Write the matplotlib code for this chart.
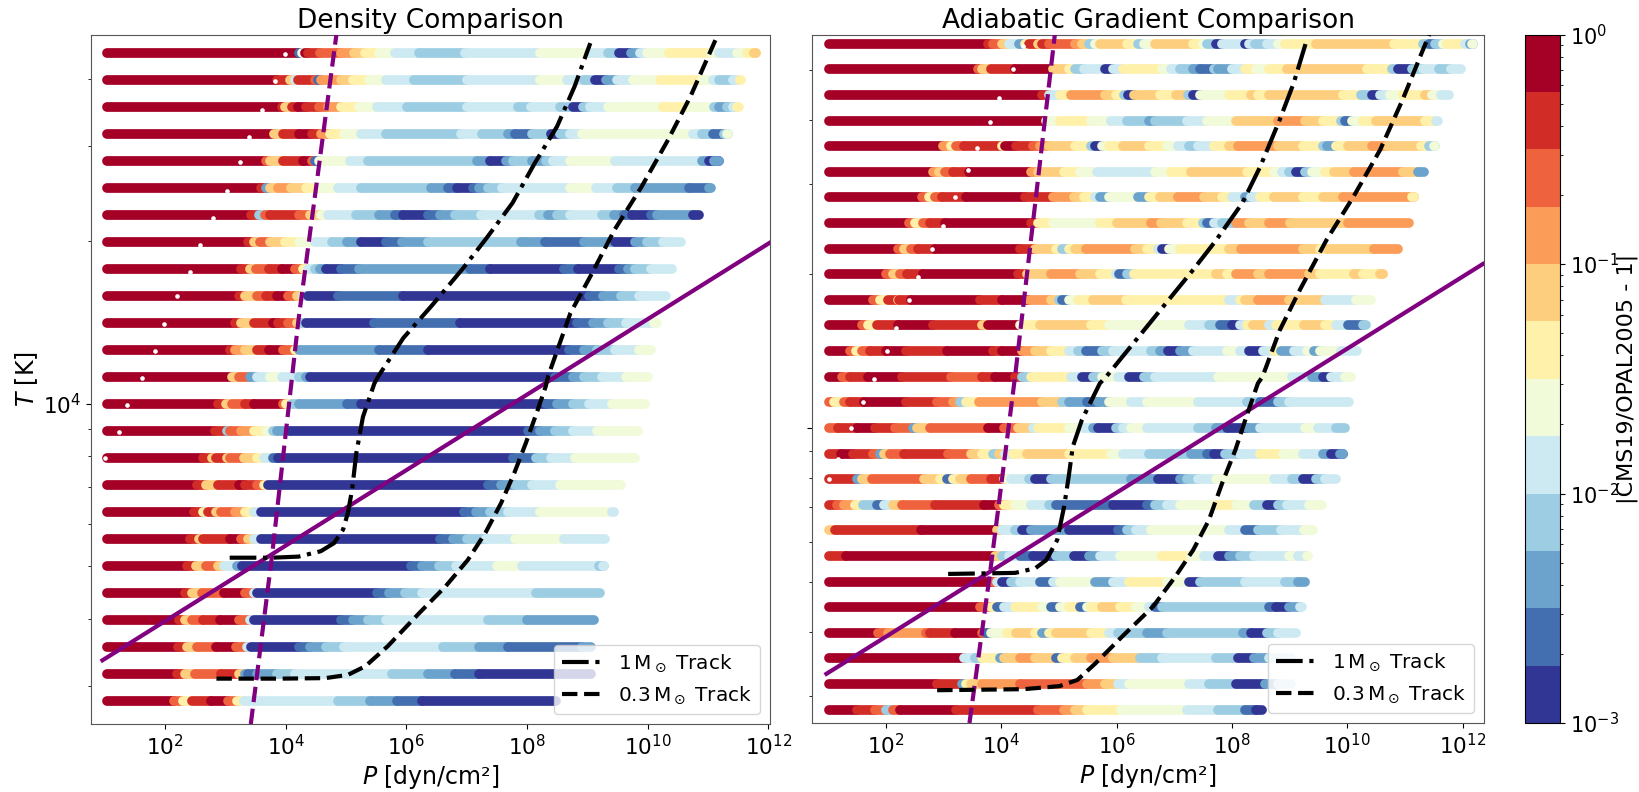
import numpy as np
import matplotlib
matplotlib.use("Agg")
import matplotlib.pyplot as plt
from matplotlib.collections import LineCollection
from matplotlib.colors import LogNorm
from matplotlib.cm import ScalarMappable
from matplotlib.ticker import LogLocator, NullFormatter, NullLocator

# Each row: (log10 P where a run of equal colour begins, colour-bin index 0..11); last entry = row end
d465=[(0.95,11),(4.14,1),(4.19,5),(4.24,11),(4.29,10),(4.49,9),(4.84,8),(5.05,7),(5.23,6),(5.47,5),(5.73,4),(6.13,3),(6.89,4),(8.13,5),(8.94,4),(9.27,3),(9.45,0),(9.64,2),(9.79,4),(9.91,5),(10.27,6),(10.97,5),(11.11,4),(11.41,5),(11.56,6),(11.71,7),(11.84,None)]
d460=[(0.95,11),(3.77,10),(3.99,7),(4.07,4),(4.13,10),(4.40,9),(4.45,1),(4.51,8),(4.84,7),(5.03,6),(5.30,5),(5.58,4),(6.04,3),(6.93,4),(8.14,5),(8.58,4),(8.86,3),(9.05,0),(9.23,2),(9.42,4),(9.68,5),(10.12,6),(10.82,5),(11.00,4),(11.11,3),(11.34,4),(11.45,6),(11.63,None)]
d455=[(0.95,11),(3.85,10),(3.90,7),(4.03,10),(4.13,11),(4.25,10),(4.47,9),(4.62,8),(4.84,6),(5.14,5),(5.43,4),(5.93,3),(6.93,4),(7.77,3),(7.98,4),(8.46,3),(8.68,0),(8.85,3),(8.97,4),(9.27,5),(10.17,6),(10.60,5),(11.02,3),(11.11,2),(11.23,3),(11.34,4),(11.41,6),(11.59,None)]
d450=[(0.95,11),(3.73,7),(3.88,10),(4.14,11),(4.36,10),(4.51,8),(4.66,6),(4.88,5),(5.17,4),(5.58,3),(6.83,4),(7.17,3),(7.61,2),(7.72,1),(8.01,3),(8.31,0),(8.46,3),(8.64,4),(8.83,5),(10.67,4),(10.82,3),(11.00,1),(11.19,3),(11.26,5),(11.39,None)]
d445=[(0.95,11),(3.59,9),(3.66,7),(3.88,10),(4.21,11),(4.36,9),(4.40,1),(4.47,5),(4.99,4),(5.28,3),(7.09,2),(7.31,0),(7.57,2),(7.68,3),(8.01,2),(8.24,3),(8.35,4),(8.64,5),(9.38,4),(10.82,2),(10.93,0),(11.11,2),(11.19,None)]
d440=[(0.95,11),(3.51,10),(3.59,2),(3.66,7),(3.79,8),(4.01,7),(4.25,6),(4.51,5),(4.78,4),(5.17,3),(6.32,2),(6.61,1),(6.76,0),(7.03,1),(7.13,2),(7.28,3),(7.50,4),(8.63,5),(9.07,4),(9.42,3),(9.71,2),(10.60,1),(10.93,2),(11.14,None)]
d435=[(0.95,11),(3.34,10),(3.48,3),(3.57,9),(3.66,10),(4.14,9),(4.32,7),(4.51,5),(4.62,4),(5.08,3),(5.47,2),(5.73,1),(5.87,0),(6.28,1),(6.48,2),(6.72,3),(7.15,4),(8.11,3),(8.26,2),(8.42,3),(8.63,4),(9.16,3),(9.37,2),(9.53,1),(9.66,0),(9.97,1),(10.08,2),(10.67,0),(10.93,None)]
d430=[(0.95,11),(3.29,10),(3.39,7),(3.49,9),(3.66,7),(3.90,6),(4.14,5),(4.40,4),(4.68,3),(4.93,2),(5.17,0),(5.58,1),(5.84,2),(6.28,3),(7.82,2),(8.22,1),(8.86,2),(9.38,0),(9.71,2),(9.91,3),(10.18,4),(10.63,None)]
d425=[(0.95,11),(3.18,10),(3.33,7),(3.42,9),(3.64,10),(3.85,11),(4.07,9),(4.21,6),(4.29,4),(4.40,3),(4.49,2),(4.58,0),(4.83,1),(5.14,2),(6.98,1),(7.31,0),(8.53,1),(8.77,0),(9.45,1),(9.59,2),(9.71,3),(9.97,4),(10.49,None)]
d420=[(0.95,11),(3.14,10),(3.24,7),(3.44,9),(3.59,10),(3.77,11),(3.96,9),(4.10,7),(4.21,4),(4.29,0),(4.79,1),(5.87,0),(8.94,1),(9.18,2),(9.48,3),(9.77,4),(10.38,None)]
d415=[(0.95,11),(3.07,10),(3.18,7),(3.39,10),(3.70,11),(3.79,10),(3.96,9),(4.10,7),(4.18,3),(4.25,0),(5.39,1),(6.81,0),(8.75,1),(9.01,2),(9.27,3),(9.56,4),(10.03,5),(10.23,None)]
d410=[(0.95,11),(3.00,10),(3.07,8),(3.25,7),(3.44,10),(3.64,11),(3.88,9),(4.07,6),(4.14,2),(5.47,1),(6.28,0),(8.61,1),(8.86,2),(9.08,3),(9.38,4),(9.77,5),(10.13,None)]
d405=[(0.95,11),(3.03,7),(3.14,9),(3.33,2),(3.44,4),(3.66,5),(3.85,4),(4.14,3),(4.25,2),(4.32,0),(8.38,1),(8.68,2),(8.86,3),(9.16,4),(9.56,5),(10.08,None)]
d400=[(0.95,11),(2.79,10),(2.92,7),(3.03,9),(3.24,10),(3.39,11),(3.88,9),(3.93,6),(4.03,3),(4.14,2),(4.93,1),(5.17,0),(8.24,1),(8.42,2),(8.68,3),(8.94,4),(9.33,5),(10.04,None)]
d395=[(0.95,11),(2.74,10),(2.94,3),(3.00,9),(3.18,8),(3.40,6),(3.59,5),(3.70,3),(3.77,2),(3.99,0),(7.94,1),(8.13,2),(8.38,3),(8.68,4),(9.08,5),(9.93,None)]
d390=[(0.95,11),(2.55,10),(2.70,7),(2.77,10),(2.94,7),(3.00,9),(3.22,7),(3.44,6),(3.55,4),(3.70,1),(3.79,0),(7.68,1),(8.07,3),(8.32,4),(8.72,5),(9.88,None)]
d385=[(0.95,11),(2.44,10),(2.59,7),(2.80,10),(3.14,11),(3.25,10),(3.44,9),(3.55,6),(3.62,0),(7.28,1),(7.48,2),(7.72,3),(8.01,4),(8.46,5),(9.64,None)]
d380=[(0.95,11),(2.39,10),(2.55,6),(2.63,10),(2.77,7),(2.85,9),(3.07,8),(3.25,6),(3.40,4),(3.51,0),(6.87,1),(7.08,2),(7.31,3),(7.61,4),(8.13,5),(9.37,4),(9.49,None)]
d375=[(0.95,11),(2.33,10),(2.48,7),(2.55,10),(3.00,11),(3.18,9),(3.29,7),(3.40,4),(3.51,0),(6.48,1),(6.69,2),(6.93,3),(7.24,4),(7.72,5),(8.53,4),(9.38,None)]
d370=[(0.95,11),(2.28,10),(2.43,7),(2.59,9),(2.80,7),(2.89,4),(3.11,2),(3.20,0),(5.99,1),(6.18,2),(6.46,3),(6.74,4),(7.42,5),(7.83,4),(9.12,3),(9.20,4),(9.34,None)]
d365=[(0.95,11),(2.24,10),(2.37,7),(2.53,9),(2.89,11),(3.25,9),(3.39,4),(3.44,0),(5.43,1),(5.63,2),(5.89,3),(6.18,4),(8.07,3),(9.29,None)]
d360=[(0.95,11),(2.15,10),(2.24,7),(2.37,9),(2.55,10),(2.83,11),(3.14,9),(3.33,4),(3.39,0),(4.83,1),(5.03,2),(5.28,3),(5.58,4),(7.28,3),(7.92,2),(9.20,None)]
d355=[(0.95,11),(2.13,10),(2.28,7),(2.44,9),(2.77,11),(3.09,9),(3.27,4),(3.34,0),(4.14,1),(4.32,2),(4.58,3),(4.88,4),(6.52,3),(7.13,2),(7.61,1),(8.83,2),(9.14,None)]
d350=[(0.95,11),(2.11,10),(2.24,7),(2.41,9),(2.85,10),(3.14,7),(3.24,2),(3.29,1),(3.44,2),(3.77,3),(4.08,4),(5.68,3),(6.28,2),(6.72,1),(7.13,0),(9.14,None)]
d345=[(0.95,11),(2.07,9),(2.21,6),(2.37,10),(2.68,11),(2.96,9),(3.11,6),(3.22,4),(4.78,3),(5.32,2),(5.76,1),(6.17,0),(8.57,None)]

a475=[(0.93,11),(3.68,10),(3.78,9),(3.93,7),(4.05,4),(4.22,2),(4.32,6),(4.39,10),(4.55,7),(4.63,10),(4.74,9),(5.20,8),(5.32,7),(5.44,3),(5.55,5),(5.63,7),(6.09,6),(6.29,3),(6.40,5),(6.58,7),(7.24,6),(7.41,5),(7.48,3),(7.64,0),(7.75,4),(8.14,0),(8.22,4),(8.32,3),(8.53,4),(8.72,5),(8.83,6),(9.37,7),(10.73,6),(11.23,3),(11.33,1),(11.44,3),(11.58,5),(11.65,6),(11.96,4),(12.04,2),(12.10,5),(12.25,None)]
a470=[(0.93,11),(3.51,9),(3.58,7),(3.74,10),(4.16,11),(4.82,7),(5.09,6),(5.20,3),(5.36,4),(5.72,0),(5.86,4),(6.02,6),(6.71,5),(6.86,4),(7.02,3),(7.24,2),(7.37,1),(7.60,3),(7.68,2),(7.91,4),(8.14,6),(8.33,5),(8.56,6),(8.87,7),(10.26,6),(10.69,3),(10.80,0),(11.03,3),(11.23,4),(11.50,3),(11.71,4),(11.88,6),(12.05,None)]
a465=[(0.93,11),(4.63,10),(4.74,4),(4.93,6),(5.13,8),(5.72,7),(5.90,6),(6.05,3),(6.11,0),(6.21,7),(6.44,7),(6.67,6),(6.94,7),(7.16,3),(7.24,0),(7.37,5),(7.87,6),(8.25,7),(8.37,6),(8.56,7),(9.84,6),(10.15,3),(10.34,0),(10.49,4),(10.65,5),(10.88,6),(11.27,7),(11.38,5),(11.54,4),(11.85,None)]
a460=[(0.93,11),(4.70,5),(4.93,6),(5.47,5),(5.82,4),(6.09,3),(6.48,2),(6.59,3),(7.14,4),(7.48,5),(7.98,7),(8.72,8),(9.18,7),(9.49,6),(9.80,3),(9.88,1),(9.99,5),(10.19,6),(10.42,7),(11.27,6),(11.46,4),(11.65,None)]
a455=[(0.93,11),(2.91,8),(3.04,6),(3.14,9),(3.27,10),(3.93,6),(3.98,11),(4.18,10),(4.47,9),(4.59,8),(4.74,7),(5.20,6),(5.47,3),(5.55,0),(5.67,5),(5.78,6),(6.03,7),(6.48,6),(6.79,5),(6.98,4),(7.17,3),(7.33,4),(7.60,6),(7.87,7),(8.02,8),(8.72,7),(9.14,6),(9.49,3),(9.57,2),(9.72,6),(9.92,7),(10.34,8),(10.61,7),(11.19,6),(11.33,3),(11.44,5),(11.59,None)]
a450=[(0.93,11),(2.73,8),(2.83,7),(2.94,9),(3.08,10),(3.35,11),(4.43,8),(4.55,7),(5.01,6),(5.28,5),(5.58,4),(6.59,5),(6.86,6),(7.21,7),(8.18,6),(8.64,5),(8.78,4),(8.91,3),(9.03,0),(9.18,3),(9.30,5),(9.53,6),(9.68,7),(10.03,8),(10.88,7),(11.15,2),(11.25,6),(11.41,None)]
a445=[(0.93,11),(2.54,9),(2.66,6),(2.77,9),(2.89,10),(3.31,11),(4.32,10),(4.82,8),(5.17,7),(5.36,6),(5.55,4),(5.63,2),(5.78,5),(6.29,2),(6.48,6),(6.67,7),(6.98,8),(7.44,7),(7.75,6),(7.91,4),(8.14,2),(8.25,4),(8.41,6),(8.64,7),(9.14,6),(9.49,7),(9.84,8),(11.07,6),(11.20,None)]
a440=[(0.93,11),(2.31,9),(2.42,6),(2.56,9),(2.69,10),(2.94,11),(4.43,10),(4.55,6),(4.82,5),(5.63,6),(5.92,7),(6.52,8),(6.69,7),(7.14,6),(7.41,3),(7.48,1),(7.60,4),(7.75,3),(7.98,8),(8.22,7),(8.56,8),(8.93,7),(9.92,8),(11.15,None)]
a435=[(0.93,11),(2.12,9),(2.23,7),(2.35,9),(2.48,10),(2.77,11),(4.24,10),(4.51,7),(4.86,6),(4.97,3),(5.09,6),(5.20,7),(5.38,8),(6.23,7),(6.44,6),(6.63,4),(6.71,0),(6.83,5),(7.02,6),(7.87,7),(8.08,8),(9.14,7),(9.45,6),(9.57,7),(10.38,8),(10.96,None)]
a430=[(0.93,11),(1.92,9),(2.04,7),(2.17,9),(2.29,10),(2.56,11),(4.20,10),(4.36,7),(4.78,8),(5.28,7),(5.63,6),(5.90,4),(5.96,1),(6.09,3),(6.22,6),(7.64,7),(7.83,6),(7.98,8),(8.37,7),(8.56,8),(9.26,7),(9.45,6),(10.03,7),(10.19,6),(10.53,7),(10.65,None)]
a425=[(0.93,11),(1.69,9),(1.81,6),(1.96,10),(2.12,7),(2.15,10),(2.35,11),(3.54,10),(3.93,11),(4.39,8),(4.78,7),(4.92,3),(4.97,1),(5.09,5),(5.24,6),(5.51,7),(6.08,6),(7.87,4),(8.06,6),(8.14,7),(8.37,8),(8.91,7),(9.53,4),(10.07,5),(10.49,None)]
a420=[(0.93,11),(1.50,9),(1.61,6),(1.77,10),(2.12,11),(2.73,10),(3.58,7),(3.68,11),(4.24,5),(4.36,6),(4.59,7),(5.47,6),(5.78,5),(7.17,4),(7.52,3),(7.71,1),(7.91,0),(8.06,4),(8.18,6),(8.28,7),(8.56,4),(8.68,6),(9.17,7),(9.53,6),(9.72,4),(9.92,1),(10.19,3),(10.40,None)]
a415=[(0.93,11),(1.30,9),(1.40,6),(1.50,9),(1.65,10),(1.92,11),(2.27,10),(2.97,11),(3.78,10),(3.93,11),(4.28,8),(4.51,7),(4.78,6),(5.09,4),(5.24,3),(5.38,1),(5.67,3),(5.86,4),(6.52,3),(6.67,2),(6.80,0),(7.02,2),(7.24,4),(7.83,5),(8.06,4),(8.22,0),(8.45,4),(8.64,6),(8.76,2),(8.99,4),(9.22,5),(9.34,2),(9.45,5),(9.80,4),(10.25,None)]
a410=[(0.93,11),(1.15,9),(1.30,10),(1.61,11),(2.19,10),(3.04,9),(3.58,10),(3.81,11),(4.16,10),(4.28,3),(4.43,6),(5.13,4),(5.32,0),(5.51,3),(5.67,5),(5.94,4),(6.13,0),(6.40,3),(6.59,4),(7.68,5),(8.95,4),(9.30,2),(9.49,0),(9.64,4),(9.88,5),(10.15,None)]
a405=[(0.93,9),(1.01,6),(1.19,9),(1.30,10),(1.54,11),(2.27,10),(2.81,9),(3.08,8),(3.20,3),(3.31,6),(3.53,8),(4.63,7),(4.97,3),(5.09,2),(5.40,1),(5.59,2),(5.78,5),(6.17,4),(6.44,5),(7.33,4),(8.18,3),(8.41,1),(8.72,3),(8.91,4),(10.11,None)]
a400=[(0.93,9),(1.09,10),(1.42,11),(1.73,10),(2.08,9),(2.39,2),(2.46,7),(2.68,9),(3.68,11),(3.97,9),(4.20,7),(4.47,4),(4.55,6),(5.09,5),(5.36,4),(5.51,2),(5.59,0),(5.90,3),(6.02,4),(6.17,5),(6.44,4),(7.33,3),(7.64,2),(7.83,0),(8.18,2),(8.41,4),(9.18,5),(9.41,4),(9.72,3),(9.88,2),(10.05,None)]
a395=[(0.93,10),(1.14,11),(1.34,10),(1.69,9),(1.81,2),(1.88,7),(1.98,9),(2.23,10),(3.00,9),(3.39,7),(3.58,6),(3.78,3),(3.87,7),(3.98,4),(4.12,6),(4.37,7),(5.09,6),(5.82,5),(6.02,4),(6.48,3),(7.21,2),(7.48,1),(7.60,0),(7.79,3),(8.06,4),(8.41,6),(8.80,5),(9.14,4),(9.49,2),(9.64,0),(9.84,2),(9.95,None)]
a390=[(0.93,10),(1.42,2),(1.50,7),(1.68,9),(2.58,7),(2.85,6),(2.97,1),(3.08,6),(3.20,7),(3.39,9),(3.74,10),(3.97,5),(4.08,4),(4.39,3),(4.51,0),(4.78,3),(6.17,2),(6.63,0),(7.02,2),(7.14,3),(7.33,4),(7.64,5),(8.64,4),(8.95,3),(9.14,0),(9.37,3),(9.53,4),(9.72,5),(9.89,None)]
a385=[(0.93,10),(1.07,9),(1.19,8),(1.38,6),(1.52,3),(1.77,1),(1.88,4),(2.04,7),(2.19,9),(2.77,10),(3.62,11),(3.87,9),(3.97,6),(4.16,5),(4.43,4),(4.74,3),(4.87,1),(5.86,0),(6.44,1),(6.59,3),(6.79,4),(7.02,5),(7.64,6),(7.98,5),(8.29,3),(8.53,0),(8.72,3),(8.87,4),(9.26,5),(9.64,None)]
a380=[(0.93,7),(1.03,10),(2.53,11),(3.85,7),(3.93,4),(4.16,3),(4.28,0),(4.43,2),(5.09,0),(5.94,1),(6.09,3),(6.25,4),(6.52,5),(7.87,4),(8.14,1),(8.37,3),(8.76,4),(9.17,5),(9.49,None)]
a375=[(0.93,10),(1.23,11),(3.81,7),(3.93,3),(4.05,4),(4.24,1),(4.47,0),(4.86,3),(5.17,0),(5.44,2),(5.63,4),(5.98,5),(6.71,6),(7.21,5),(7.44,4),(7.68,0),(7.87,2),(8.06,3),(8.29,4),(8.91,5),(9.07,4),(9.22,5),(9.40,None)]
a370=[(0.93,11),(3.78,9),(3.85,4),(3.93,0),(4.08,3),(4.24,4),(4.59,1),(4.82,4),(4.93,5),(5.55,2),(5.86,4),(6.13,6),(6.79,5),(7.17,0),(7.37,3),(8.14,4),(8.83,3),(9.07,2),(9.35,None)]
a365=[(0.93,11),(3.54,9),(3.74,6),(3.85,1),(3.97,4),(4.16,6),(4.63,5),(4.78,1),(4.93,5),(5.09,6),(5.28,1),(5.40,5),(5.47,6),(5.67,7),(5.98,6),(6.25,5),(6.48,4),(6.59,1),(6.71,3),(8.56,1),(8.68,0),(8.91,2),(9.10,4),(9.30,None)]
a360=[(0.93,11),(1.78,9),(1.96,8),(2.62,9),(2.69,10),(3.12,11),(3.58,9),(3.66,1),(3.74,5),(4.01,6),(4.18,7),(4.51,6),(4.63,2),(4.74,6),(4.87,7),(5.47,6),(5.78,4),(5.94,3),(6.44,2),(6.79,3),(8.10,2),(8.25,0),(8.53,3),(8.72,4),(9.03,6),(9.20,None)]
a355=[(0.93,11),(3.27,4),(3.47,3),(3.58,6),(3.89,2),(3.97,7),(4.24,8),(4.51,7),(4.86,1),(4.97,6),(5.20,7),(5.47,8),(5.86,7),(6.32,3),(6.71,4),(7.64,3),(8.02,0),(8.29,2),(8.56,4),(9.10,None)]
a350=[(0.93,11),(2.81,10),(3.24,2),(3.31,6),(3.39,7),(3.58,8),(4.24,9),(5.40,8),(5.71,7),(5.94,4),(6.13,5),(7.17,4),(7.52,3),(7.98,0),(8.49,2),(8.72,4),(9.10,None)]
a345=[(0.93,11),(1.42,10),(1.73,9),(1.92,3),(2.04,9),(2.17,11),(3.14,10),(4.55,9),(5.00,8),(5.20,7),(5.40,6),(5.99,5),(7.14,4),(7.68,3),(8.14,1),(8.33,0),(8.60,None)]

density_rows = [d465,d460,d455,d450,d445,d440,d435,d430,d425,d420,d415,d410,d405,d400,d395,d390,d385,d380,d375,d370,d365,d360,d355,d350,d345]
density_logT = [4.65,4.60,4.55,4.50,4.45,4.40,4.35,4.30,4.25,4.20,4.15,4.10,4.05,4.00,3.95,3.90,3.85,3.80,3.75,3.70,3.65,3.60,3.55,3.50,3.45]
grad_rows = [a475,a470,a465,a460,a455,a450,a445,a440,a435,a430,a425,a420,a415,a410,a405,a400,a395,a390,a385,a380,a375,a370,a365,a360,a355,a350,a345]
grad_logT = [4.75,4.70,4.65,4.60,4.55,4.50,4.45,4.40,4.35,4.30,4.25,4.20,4.15,4.10,4.05,4.00,3.95,3.90,3.85,3.80,3.75,3.70,3.65,3.60,3.55,3.50,3.45]

# white (missing-value) dots
d_white_logP = [3.98,3.82,3.60,3.39,3.24,3.02,2.79,2.57,2.42,2.20,1.98,1.83,1.61,1.37,1.23,1.00]
d_white_logT = [4.648,4.598,4.545,4.495,4.447,4.395,4.345,4.295,4.245,4.20,4.147,4.097,4.047,3.997,3.947,3.90]
a_white_logP = [4.37,4.20,3.97,3.81,3.58,3.43,3.20,2.99,2.80,2.56,2.41,2.18,2.02,1.79,1.61,1.40,1.17,1.01]
a_white_logT = [4.745,4.70,4.645,4.597,4.547,4.503,4.45,4.395,4.35,4.295,4.25,4.195,4.15,4.095,4.05,4.00,3.94,3.90]

# lines (log10 P, log10 T)
d_rad_P = [0.96,12.05];  d_rad_T = [3.525,4.30]
d_ad_P = [3.42,3.77,4.21,4.84]; d_ad_T = [3.407,3.717,4.155,4.684]
d_1_P = [3.07,3.77,4.21,4.58,4.80,4.95,5.03,5.10,5.17,5.28,5.47,5.54,5.95,6.43,6.94,7.33,7.76,8.13,8.50,8.79,9.05]
d_1_T = [3.715,3.715,3.717,3.727,3.742,3.767,3.798,3.841,3.909,3.976,4.038,4.052,4.122,4.183,4.251,4.307,4.372,4.446,4.514,4.588,4.668]
d_03_P = [2.85,3.92,4.66,5.03,5.32,5.69,6.21,6.65,7.02,7.31,7.57,7.79,7.98,8.16,8.31,8.35,8.72,9.08,9.45,9.90,10.34,10.71,11.15]
d_03_T = [3.491,3.491,3.492,3.498,3.514,3.551,3.612,3.662,3.711,3.761,3.816,3.872,3.927,3.983,4.032,4.051,4.168,4.242,4.322,4.402,4.489,4.569,4.680]
a_rad_P = [0.97,12.35]; a_rad_T = [3.52,4.32]
a_ad_P = [3.45,3.81,4.24,4.93]; a_ad_T = [3.424,3.72,4.10,4.768]
a_1_P = [3.08,4.24,4.59,4.78,4.97,5.09,5.17,5.24,5.40,5.71,5.82,6.29,6.86,7.33,7.71,8.18,8.49,8.83,9.07,9.28]
a_1_T = [3.715,3.717,3.726,3.742,3.781,3.846,3.905,3.963,4.016,4.087,4.100,4.165,4.244,4.309,4.364,4.439,4.510,4.602,4.673,4.751]
a_03_P = [2.89,4.39,5.01,5.32,5.63,6.09,6.63,7.02,7.33,7.60,7.83,8.06,8.25,8.45,8.53,8.83,9.18,9.64,10.11,10.57,10.96,11.42]
a_03_T = [3.488,3.490,3.496,3.508,3.540,3.592,3.651,3.710,3.762,3.820,3.892,3.957,4.022,4.087,4.100,4.191,4.270,4.367,4.452,4.543,4.641,4.768]

W, H = 1639, 792
PURPLE = "purple"
cmap = plt.get_cmap("RdYlBu_r", 12)
norm = LogNorm(1e-3, 1)
LW = 7.0

def box(l, t, r, b):
    return [l/W, 1-b/H, (r-l)/W, (b-t)/H]

def bin_value(k):
    return 10**(-3 + 3*(k+0.5)/12)

def draw_rows(ax, rows, logT, cap):
    segs, vals = [], []
    for row, t in zip(rows, logT):
        for (x0, k), (x1, nxt) in zip(row[:-1], row[1:]):
            segs.append([(10**(x0+cap), 10**t), (10**(x1 + (cap if nxt is not None else -cap)), 10**t)])
            vals.append(bin_value(k))
    lc = LineCollection(segs, cmap=cmap, norm=norm, array=np.array(vals),
                        linewidths=LW, capstyle="round", zorder=2)
    ax.add_collection(lc)

plt.rcParams["font.size"] = 15
fig = plt.figure(figsize=(W/100, H/100), dpi=100)

axL = fig.add_axes(box(91, 34.5, 770, 724))
axR = fig.add_axes(box(812, 34.5, 1484, 723))

panels = [
 (axL, density_rows, density_logT, 0.081, d_white_logP, d_white_logT, d_rad_P, d_rad_T, d_ad_P, d_ad_T, d_1_P, d_1_T, d_03_P, d_03_T,
  (10**0.77, 10**12.03), (10**3.407, 10**4.684), "Density Comparison"),
 (axR, grad_rows, grad_logT, 0.084, a_white_logP, a_white_logT, a_rad_P, a_rad_T, a_ad_P, a_ad_T, a_1_P, a_1_T, a_03_P, a_03_T,
  (10**0.72, 10**12.37), (10**3.424, 10**4.768), "Adiabatic Gradient Comparison"),
]
for ax, rows, logT, cap, wx, wy, rp, rt, ap, at, p1, t1, p3, t3, xl, yl, title in panels:
    ax.set_xscale("log"); ax.set_yscale("log")
    draw_rows(ax, rows, logT, cap)
    ax.scatter(10**np.array(wx), 10**np.array(wy), s=11, color="white", linewidths=0, zorder=3)
    ax.plot(10**np.array(rp), 10**np.array(rt), color=PURPLE, lw=3, zorder=4)
    ax.plot(10**np.array(ap), 10**np.array(at), color=PURPLE, lw=3, ls="--", zorder=4)
    ax.plot(10**np.array(p1), 10**np.array(t1), color="black", lw=3, ls="-.", label=r"$1\,\mathrm{M}_\odot$ Track", zorder=5)
    ax.plot(10**np.array(p3), 10**np.array(t3), color="black", lw=3, ls="--", label=r"$0.3\,\mathrm{M}_\odot$ Track", zorder=5)
    ax.set_xlim(*xl); ax.set_ylim(*yl)
    ax.set_xticks([1e2,1e4,1e6,1e8,1e10,1e12])
    ax.xaxis.set_minor_locator(NullLocator())
    ax.tick_params(axis="both", labelsize=15.5)
    ax.set_xlabel(r"$P$ [dyn/cm²]", fontsize=17, labelpad=3)
    ax.set_title(title, fontsize=19, pad=5)
    ax.legend(loc="lower right", fontsize=14.4, borderaxespad=0.5)
    for s in ax.spines.values():
        s.set_color("#555555")

axL.set_ylabel(r"$T$ [K]", fontsize=17, labelpad=2)
axR.tick_params(axis="y", which="both", labelleft=False)
axR.yaxis.set_minor_formatter(NullFormatter())
axL.yaxis.set_minor_formatter(NullFormatter())

cax = fig.add_axes(box(1525, 34.5, 1560, 723))
cb = fig.colorbar(ScalarMappable(norm=norm, cmap=cmap), cax=cax)
cb.set_ticks([1e-3, 1e-2, 1e-1, 1])
cb.ax.yaxis.set_minor_locator(LogLocator(base=10, subs=np.arange(2, 10), numticks=12))
cb.ax.yaxis.set_minor_formatter(NullFormatter())
cb.set_label("|CMS19/OPAL2005 - 1|", fontsize=16, va="center")
cb.ax.yaxis.set_label_coords(2.93, 0.5)
cb.ax.tick_params(labelsize=15)
fig.savefig("out.png", dpi=100)
